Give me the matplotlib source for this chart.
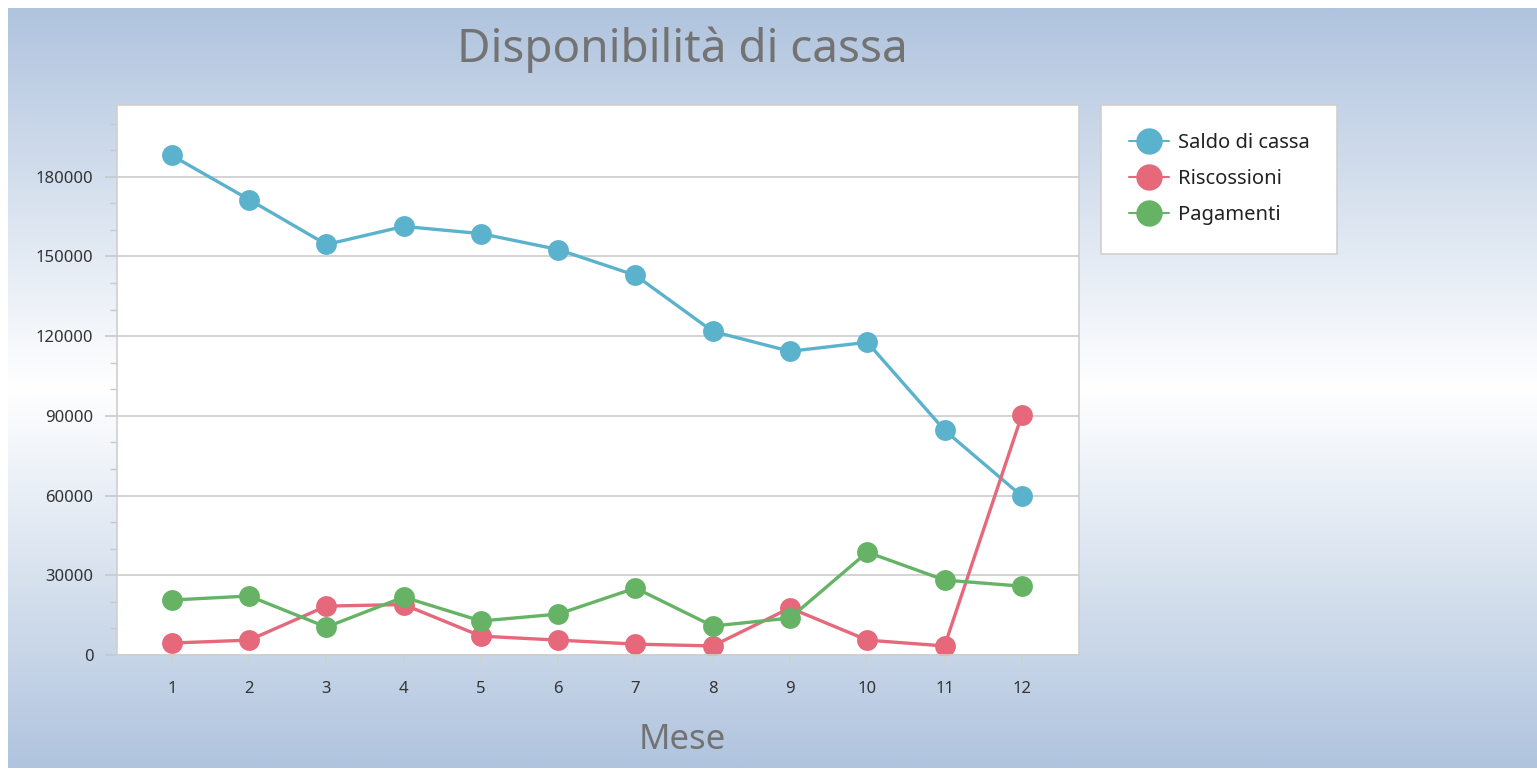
import matplotlib.pyplot as plt
import numpy as np
from matplotlib.colors import LinearSegmentedColormap

# data
mesi = list(range(1, 13))
saldo = [188000, 171400, 154500, 161300, 158600, 152600, 142900, 121800, 114300, 117700, 84600, 59800]
riscossioni = [4500, 5600, 18400, 19000, 7100, 5600, 4100, 3400, 17700, 5600, 3400, 90200]
pagamenti = [20700, 22200, 10500, 21800, 12800, 15400, 25200, 10900, 13900, 38700, 28200, 25900]

serie = [
    ('Saldo di cassa', saldo, '#5bb2cc'),
    ('Riscossioni', riscossioni, '#e6687b'),
    ('Pagamenti', pagamenti, '#66b366'),
]

plt.rcParams['font.family'] = ['Noto Sans', 'DejaVu Sans']

fig = plt.figure(figsize=(15.37, 7.69), dpi=100)
fig.patch.set_facecolor('white')

# gradient background (lightsteelblue -> white -> lightsteelblue)
bg = fig.add_axes([8 / 1537, 1 / 769, 1 - 8 / 1537, 1 - 9 / 769])
cmap = LinearSegmentedColormap.from_list('bg', ['#b0c4de', '#ffffff', '#b0c4de'])
grad = np.linspace(0, 1, 512).reshape(-1, 1)
bg.imshow(grad, aspect='auto', cmap=cmap, extent=[0, 1, 0, 1])
bg.set_axis_off()
bg.set_zorder(0)

ax = fig.add_axes([117 / 1537, 1 - 655 / 769, 962 / 1537, 550 / 769])
ax.set_zorder(1)
ax.set_facecolor('white')

for nome, valori, colore in serie:
    ax.plot(mesi, valori, color=colore, lw=2.4, marker='o', ms=15,
            markeredgewidth=0, label=nome, solid_capstyle='round')

ax.set_xlim(0.29, 12.74)
ax.set_ylim(0, 207000)
ax.set_xticks(mesi)
ax.set_yticks(np.arange(0, 180001, 30000))
ax.set_yticks(np.arange(0, 207000, 10000), minor=True)
ax.yaxis.grid(True, color='#cccccc', lw=1.2)
ax.set_axisbelow(True)

for s in ax.spines.values():
    s.set_color('#cfcfcf')
    s.set_linewidth(1.2)

ax.tick_params(axis='y', which='major', length=9, color='#c8c8c8', width=1.2,
               labelsize=12, labelcolor='#333333', pad=8)
ax.tick_params(axis='y', which='minor', length=5, color='#c8c8c8', width=1)
ax.tick_params(axis='x', which='major', length=7, color='#d0d0d0', width=1.2,
               labelsize=12, labelcolor='#333333', pad=12)
ax.tick_params(axis='x', which='minor', length=0)

fig.text(682 / 1537, 1 - 50 / 769, 'Disponibilità di cassa', ha='center', va='center',
         fontsize=33, color='#737373')
fig.text(682 / 1537, 1 - 740 / 769, 'Mese', ha='center', va='center',
         fontsize=25, color='#737373')

leg = ax.legend(loc='upper left', bbox_to_anchor=(1101 / 1537, 1 - 105 / 769),
                bbox_transform=fig.transFigure, fontsize=14.5, frameon=True,
                fancybox=False, borderpad=1.4, labelspacing=0.8,
                handlelength=2.0, handletextpad=0.4, borderaxespad=0,
                framealpha=1)
leg.get_frame().set_edgecolor('#cfcfcf')
leg.get_frame().set_linewidth(1.2)
for t in leg.get_texts():
    t.set_color('#222222')
for h in leg.legend_handles:
    h.set_markersize(19)
    h.set_linewidth(1.5)

fig.savefig('out.png', dpi=100)
